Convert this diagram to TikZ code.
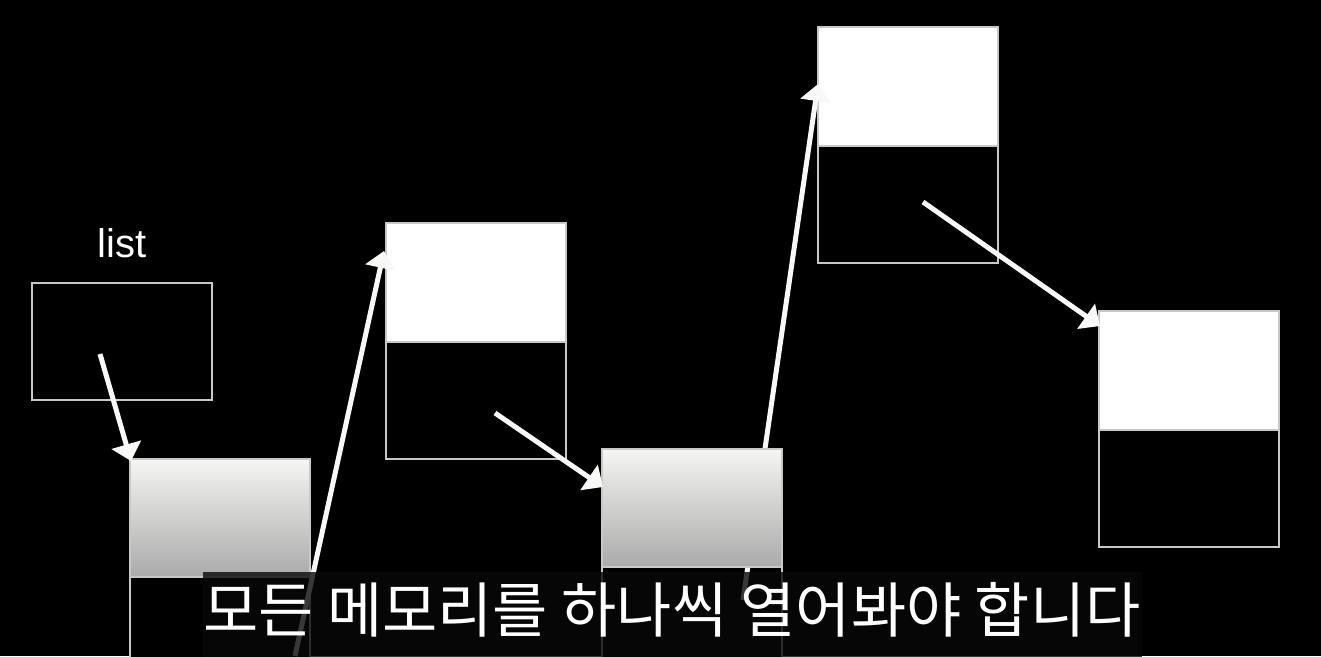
\documentclass[tikz,border=0pt]{standalone}
\usepackage{fontspec}
\setmainfont{Liberation Sans}
\newfontfamily\kofont{Noto Sans CJK KR}
\usetikzlibrary{arrows.meta,calc}
\definecolor{outl}{RGB}{200,200,200}
\definecolor{gtop}{RGB}{245,246,243}
\definecolor{gbot}{RGB}{170,170,170}
\definecolor{arr}{RGB}{248,248,246}
\tikzset{
  cellbox/.style={draw=outl, line width=1.4pt, inner sep=0pt, outer sep=0pt,
    minimum width=180pt, anchor=north west},
  whitecell/.style={cellbox, fill=white},
  gradcell/.style={cellbox, top color=gtop, bottom color=gbot},
  darkcell/.style={cellbox, fill=black},
  ptr/.style={draw=arr, line width=5pt,
    -{Triangle[width=30pt,length=17pt,fill=arr]}},
}
\begin{document}
\begin{tikzpicture}[x=1pt,y=-1pt]
\path[use as bounding box] (0,0) rectangle (1321,656);
\clip (0,0) rectangle (1321,656);
\fill[black] (0,0) rectangle (1321,656);

% list
\node[text=white, font=\fontsize{40}{44}\selectfont, anchor=base] (lbl) at (122,257) {list};
\node[darkcell, minimum height=117pt] (L) at (32,283) {};

% node A
\node[gradcell, minimum height=118pt] (Atop) at (130,459) {};
\node[darkcell, minimum height=118pt] (Abot) at (130,577) {};
% node B
\node[whitecell, minimum height=119pt] (Btop) at (386,223) {};
\node[darkcell, minimum height=117pt] (Bbot) at (386,342) {};
% node D
\node[whitecell, minimum height=119pt] (Dtop) at (818,27) {};
\node[darkcell, minimum height=117pt] (Dbot) at (818,146) {};
% node E
\node[whitecell, minimum height=119pt] (Etop) at (1099,311) {};
\node[darkcell, minimum height=117pt] (Ebot) at (1099,430) {};

% node C bottom
\node[darkcell, minimum height=118pt] (Cbot) at (602,567) {};

% pointer C -> D (goes under C's top part)
\coordinate (c4s) at (743,600);
\coordinate (c4e) at (818,84);
\draw[ptr] (c4s) -- (c4e);

% node C top
\node[gradcell, minimum height=118pt] (Ctop) at (602,449) {};

% other pointers
\coordinate (c1s) at (100,354);
\coordinate (c1e) at (131,461);
\draw[ptr] (c1s) -- (c1e);

\coordinate (c2s) at (295,656);
\coordinate (c2e) at (384,251);
\draw[ptr] (c2s) -- (c2e);

\coordinate (c3s) at (495,413);
\coordinate (c3e) at (603,487);
\draw[ptr] (c3s) -- (c3e);

\coordinate (c5s) at (923,202);
\coordinate (c5e) at (1100,326);
\draw[ptr] (c5s) -- (c5e);

% subtitle
\fill[fill={rgb,255:red,8;green,8;blue,8}, fill opacity=0.8] (203,572) rectangle (1142,660);
\node[text=white, font=\kofont\fontsize{60}{64}\selectfont, anchor=base] (sub) at (672,632)
  {모든 메모리를 하나씩 열어봐야 합니다};
\end{tikzpicture}
\end{document}
